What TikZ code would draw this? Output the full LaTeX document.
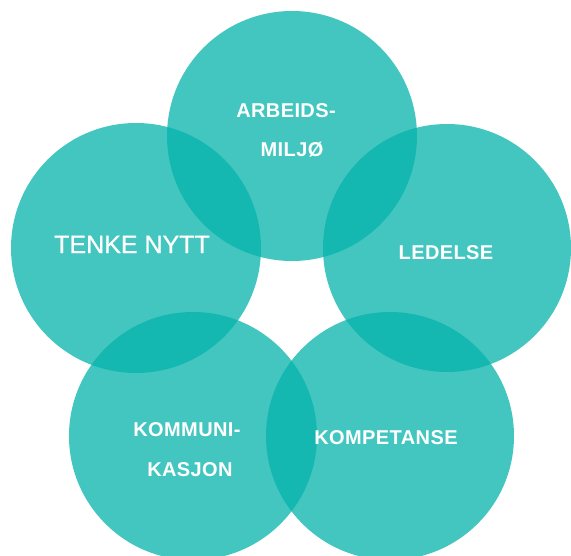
\documentclass[tikz,border=0pt]{standalone}
\usepackage{fontspec}
\setmainfont{Liberation Sans}
\definecolor{teal1}{RGB}{5,180,172}
\tikzset{
  bubble/.style={fill=teal1, fill opacity=0.75},
  small/.style={text=white, inner sep=0pt, anchor=base,
    font=\fontsize{20}{22}\selectfont\bfseries\addfontfeature{LetterSpace=2}},
  big/.style={text=white, inner sep=0pt, anchor=base,
    font=\fontsize{25}{28}\selectfont\addfontfeature{FakeBold=0.6}}
}
\begin{document}
\begin{tikzpicture}[x=1pt,y=-1pt]
\useasboundingbox (0,0) rectangle (571,555);
\fill[white] (0,0) rectangle (571,555);
\clip (0,0) rectangle (571,555);
% circles
\fill[bubble] (292,136) circle (125);
\fill[bubble] (136,248) circle (125);
\fill[bubble] (447,248) circle (124);
\fill[bubble] (193,436) circle (124);
\fill[bubble] (390,436) circle (124);
% labels
\node[small] (arb1) at (286,117) {ARBEIDS-};
\node[small] (arb2) at (292,156) {MILJØ};
\node[big] (tenke) at (132,253) {TENKE NYTT};
\node[small] (led) at (446,259) {LEDELSE};
\node[small] (kom1) at (187,436) {KOMMUNI-};
\node[small] (kom2) at (190,476) {KASJON};
\node[small] (komp) at (386,444) {KOMPETANSE};
\end{tikzpicture}
\end{document}
